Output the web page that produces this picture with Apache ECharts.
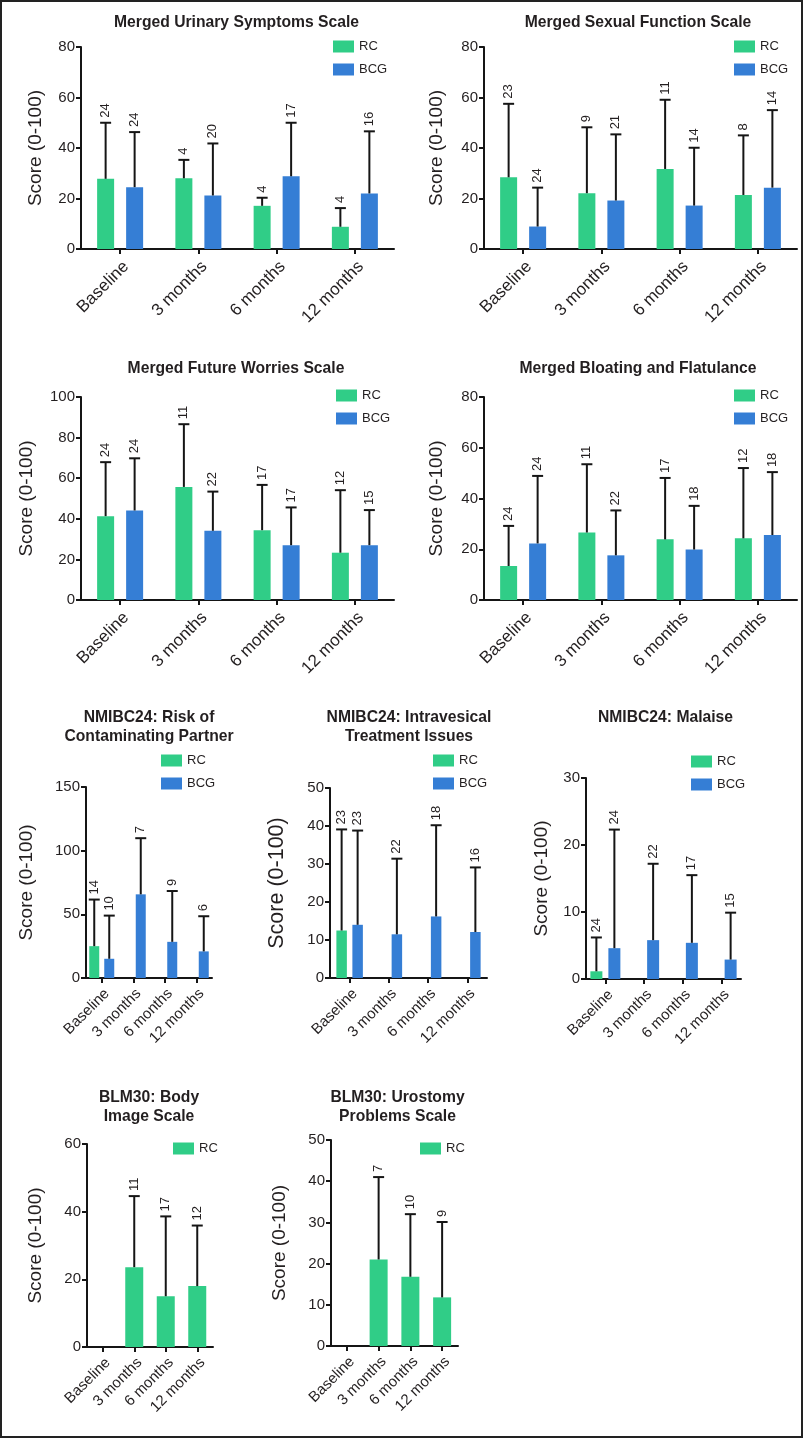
<!DOCTYPE html>
<html><head><meta charset="utf-8">
<script src="https://cdn.jsdelivr.net/npm/echarts@6/dist/echarts.min.js"></script>
<style>html,body{margin:0;padding:0;background:#fff}#c{width:805px;height:1439px}</style>
</head><body><div id="c"></div>
<script>
// ---------- DATA ----------
const categories = ['Baseline', '3 months', '6 months', '12 months'];
const groupNames = ['RC', 'BCG'];

const urinaryTicks = [0, 20, 40, 60, 80];
const urinaryRC = [27.8, 28.0, 17.1, 8.8];
const urinaryRCErr = [50.0, 35.3, 20.3, 16.2];
const urinaryRCN = [24, 4, 4, 4];
const urinaryBCG = [24.5, 21.2, 28.8, 22.0];
const urinaryBCGErr = [46.3, 41.8, 50.0, 46.6];
const urinaryBCGN = [24, 20, 17, 16];

const sexualTicks = [0, 20, 40, 60, 80];
const sexualRC = [28.4, 22.1, 31.7, 21.4];
const sexualRCErr = [57.5, 48.2, 59.1, 45.0];
const sexualRCN = [23, 9, 11, 8];
const sexualBCG = [8.9, 19.2, 17.2, 24.3];
const sexualBCGErr = [24.3, 45.4, 40.1, 55.0];
const sexualBCGN = [24, 21, 14, 14];

const worriesTicks = [0, 20, 40, 60, 80, 100];
const worriesRC = [41.3, 55.7, 34.4, 23.3];
const worriesRCErr = [67.9, 86.6, 56.7, 54.1];
const worriesRCN = [24, 11, 17, 12];
const worriesBCG = [44.1, 34.1, 27.0, 27.0];
const worriesBCGErr = [69.8, 53.4, 45.6, 44.3];
const worriesBCGN = [24, 22, 17, 15];

const bloatingTicks = [0, 20, 40, 60, 80];
const bloatingRC = [13.4, 26.6, 23.9, 24.3];
const bloatingRCErr = [29.2, 53.5, 48.1, 52.0];
const bloatingRCN = [24, 11, 17, 12];
const bloatingBCG = [22.3, 17.6, 19.9, 25.6];
const bloatingBCGErr = [48.9, 35.3, 37.1, 50.4];
const bloatingBCGN = [24, 22, 18, 18];

const partnerTicks = [0, 50, 100, 150];
const partnerRC = [25.0, null, null, null];
const partnerRCErr = [61.6, null, null, null];
const partnerRCN = [14, null, null, null];
const partnerBCG = [15.1, 65.7, 28.4, 20.9];
const partnerBCGErr = [49.0, 109.8, 68.3, 48.5];
const partnerBCGN = [10, 7, 9, 6];

const intravesicalTicks = [0, 10, 20, 30, 40, 50];
const intravesicalRC = [12.5, null, null, null];
const intravesicalRCErr = [39.1, null, null, null];
const intravesicalRCN = [23, null, null, null];
const intravesicalBCG = [14.0, 11.5, 16.2, 12.1];
const intravesicalBCGErr = [38.8, 31.4, 40.2, 29.1];
const intravesicalBCGN = [23, 22, 18, 16];

const malaiseTicks = [0, 10, 20, 30];
const malaiseRC = [1.15, null, null, null];
const malaiseRCErr = [6.2, null, null, null];
const malaiseRCN = [24, null, null, null];
const malaiseBCG = [4.6, 5.8, 5.4, 2.9];
const malaiseBCGErr = [22.3, 17.2, 15.5, 9.9];
const malaiseBCGN = [24, 22, 17, 15];

const bodyTicks = [0, 20, 40, 60];
const bodyRC = [null, 23.6, 15.0, 18.0];
const bodyRCErr = [null, 44.6, 38.6, 35.9];
const bodyRCN = [null, 11, 17, 12];

const urostomyTicks = [0, 10, 20, 30, 40, 50];
const urostomyRC = [null, 21.0, 16.8, 11.8];
const urostomyRCErr = [null, 41.0, 32.0, 30.1];
const urostomyRCN = [null, 7, 10, 9];

// ---------- STYLE / LAYOUT ----------
const FONT = '"Liberation Sans", Arial, Helvetica, sans-serif';
const TXT = '#231f20';
const AX = '#151515';
const COLORS = { RC: '#30cd87', BCG: '#357ed5' };

const panels = [
  { title: 'Merged Urinary Symptoms Scale', tx: 236.5, ty: 13, ticks: urinaryTicks,
    groups: [[urinaryRC, urinaryRCErr, urinaryRCN], [urinaryBCG, urinaryBCGErr, urinaryBCGN]],
    grid: { left: 81, top: 47, width: 313, height: 202 }, bw: 17, gap: 12, nameGap: 36, nameSize: 19,
    xFont: 17, xMargin: 9, legend: { left: 333, top: 40 } },
  { title: 'Merged Sexual Function Scale', tx: 638, ty: 13, ticks: sexualTicks,
    groups: [[sexualRC, sexualRCErr, sexualRCN], [sexualBCG, sexualBCGErr, sexualBCGN]],
    grid: { left: 484, top: 47, width: 313, height: 202 }, bw: 17, gap: 12, nameGap: 38, nameSize: 19,
    xFont: 17, xMargin: 9, legend: { left: 734, top: 40 } },
  { title: 'Merged Future Worries Scale', tx: 236, ty: 359, ticks: worriesTicks,
    groups: [[worriesRC, worriesRCErr, worriesRCN], [worriesBCG, worriesBCGErr, worriesBCGN]],
    grid: { left: 81, top: 397, width: 313, height: 203 }, bw: 17, gap: 12, nameGap: 45, nameSize: 19,
    xFont: 17, xMargin: 9, legend: { left: 336, top: 389 } },
  { title: 'Merged Bloating and Flatulance', tx: 638, ty: 359, ticks: bloatingTicks,
    groups: [[bloatingRC, bloatingRCErr, bloatingRCN], [bloatingBCG, bloatingBCGErr, bloatingBCGN]],
    grid: { left: 484, top: 397, width: 313, height: 203 }, bw: 17, gap: 12, nameGap: 38, nameSize: 19,
    xFont: 17, xMargin: 9, legend: { left: 734, top: 389 } },
  { title: 'NMIBC24: Risk of\nContaminating Partner', tx: 149, ty: 708.5, ticks: partnerTicks,
    groups: [[partnerRC, partnerRCErr, partnerRCN], [partnerBCG, partnerBCGErr, partnerBCGN]],
    grid: { left: 86, top: 787, width: 126, height: 191 }, bw: 10, gap: 5, nameGap: 50, nameSize: 19,
    xFont: 15, xMargin: 8, legend: { left: 161, top: 754 } },
  { title: 'NMIBC24: Intravesical\nTreatment Issues', tx: 409, ty: 708.5, ticks: intravesicalTicks,
    groups: [[intravesicalRC, intravesicalRCErr, intravesicalRCN], [intravesicalBCG, intravesicalBCGErr, intravesicalBCGN]],
    grid: { left: 330, top: 788, width: 157, height: 190 }, bw: 10.5, gap: 5.5, nameGap: 42, nameSize: 21.5,
    xFont: 15, xMargin: 8, legend: { left: 433, top: 754 } },
  { title: 'NMIBC24: Malaise', tx: 665.5, ty: 708.5, ticks: malaiseTicks,
    groups: [[malaiseRC, malaiseRCErr, malaiseRCN], [malaiseBCG, malaiseBCGErr, malaiseBCGN]],
    grid: { left: 586, top: 778, width: 155, height: 201 }, bw: 12, gap: 6, nameGap: 35, nameSize: 19,
    xFont: 15, xMargin: 8, legend: { left: 691, top: 755 } },
  { title: 'BLM30: Body\nImage Scale', tx: 149, ty: 1088.5, ticks: bodyTicks,
    groups: [[bodyRC, bodyRCErr, bodyRCN]],
    grid: { left: 87, top: 1144, width: 126, height: 203 }, bw: 18, gap: 0, nameGap: 42, nameSize: 19,
    xFont: 15, xMargin: 8, legend: { left: 173, top: 1142 } },
  { title: 'BLM30: Urostomy\nProblems Scale', tx: 397.5, ty: 1088.5, ticks: urostomyTicks,
    groups: [[urostomyRC, urostomyRCErr, urostomyRCN]],
    grid: { left: 331, top: 1140, width: 127, height: 206 }, bw: 18, gap: 0, nameGap: 42, nameSize: 19,
    xFont: 15, xMargin: 8, legend: { left: 420, top: 1142 } }
];

function makeErr(offset) {
  return function (params, api) {
    const base = api.coord([api.value(0), api.value(1)]);
    const top = api.coord([api.value(0), api.value(2)]);
    const cx = base[0] + offset;
    return {
      type: 'group',
      children: [
        { type: 'line', shape: { x1: cx, y1: base[1], x2: cx, y2: top[1] }, style: { stroke: AX, lineWidth: 2 } },
        { type: 'line', shape: { x1: cx - 5.5, y1: top[1], x2: cx + 5.5, y2: top[1] }, style: { stroke: AX, lineWidth: 2 } },
        { type: 'text', x: cx, y: top[1] - 5, rotation: Math.PI / 2,
          style: { text: String(api.value(3)), fontSize: 13, fontFamily: FONT, fill: TXT, align: 'left', verticalAlign: 'middle' } }
      ]
    };
  };
}

const grids = [], xAxes = [], yAxes = [], series = [], legends = [], graphics = [];

panels.forEach((p, i) => {
  grids.push(Object.assign({ outerBoundsMode: 'none', containLabel: false }, p.grid));
  xAxes.push({
    type: 'category', gridIndex: i, data: categories,
    axisLine: { show: true, lineStyle: { color: AX, width: 2 } },
    axisTick: { show: true, alignWithLabel: true, length: 5, lineStyle: { color: AX, width: 2 } },
    axisLabel: { rotate: 45, interval: 0, fontSize: p.xFont, color: TXT, fontFamily: FONT, margin: p.xMargin,
      verticalAlign: 'top', hideOverlap: false },
    splitLine: { show: false }
  });
  const t = p.ticks;
  yAxes.push({
    type: 'value', gridIndex: i, min: t[0], max: t[t.length - 1], interval: t[1] - t[0],
    name: 'Score (0-100)', nameLocation: 'middle', nameGap: p.nameGap,
    nameTextStyle: { fontSize: p.nameSize, color: TXT, fontFamily: FONT },
    axisLine: { show: true, lineStyle: { color: AX, width: 2 } },
    axisTick: { show: true, length: 5, lineStyle: { color: AX, width: 2 } },
    axisLabel: { fontSize: 15, color: TXT, fontFamily: FONT, margin: 6 },
    splitLine: { show: false }
  });
  const n = p.groups.length;
  p.groups.forEach((g, k) => {
    const name = groupNames[k];
    const offset = n === 2 ? (k === 0 ? -1 : 1) * (p.bw + p.gap) / 2 : 0;
    series.push({
      type: 'bar', name: name, xAxisIndex: i, yAxisIndex: i, data: g[0],
      barWidth: p.bw, barGap: (p.gap / p.bw * 100).toFixed(1) + '%',
      itemStyle: { color: COLORS[name] }, z: 2, silent: true, animation: false
    });
    const rows = [];
    g[0].forEach((v, c) => { if (v !== null) rows.push([c, v, g[1][c], g[2][c]]); });
    series.push({
      type: 'custom', name: name + ' error', xAxisIndex: i, yAxisIndex: i, data: rows,
      encode: { x: 0, y: [1, 2] }, renderItem: makeErr(offset), z: 3, silent: true, clip: false, animation: false
    });
  });
  legends.push({
    data: groupNames.slice(0, n), left: p.legend.left, top: p.legend.top, orient: 'vertical',
    icon: 'rect', itemWidth: 21, itemHeight: 12, itemGap: 10, padding: 0, selectedMode: false,
    textStyle: { fontSize: 13, color: TXT, fontFamily: FONT, lineHeight: 12 }
  });
  graphics.push({
    type: 'text', x: p.tx, y: p.ty,
    style: { text: p.title, fontSize: 15.7, fontWeight: 'bold', fontFamily: FONT, fill: TXT,
      align: 'center', verticalAlign: 'top', lineHeight: 19 }
  });
});

graphics.push({ type: 'rect', shape: { x: 1, y: 1, width: 801, height: 1436 },
  style: { fill: 'none', stroke: '#222', lineWidth: 2 }, silent: true });

const chart = echarts.init(document.getElementById('c'), null, { renderer: 'canvas' });
chart.setOption({
  backgroundColor: '#ffffff',
  animation: false,
  grid: grids, xAxis: xAxes, yAxis: yAxes, series: series, legend: legends,
  graphic: graphics
});
</script>
</body></html>
